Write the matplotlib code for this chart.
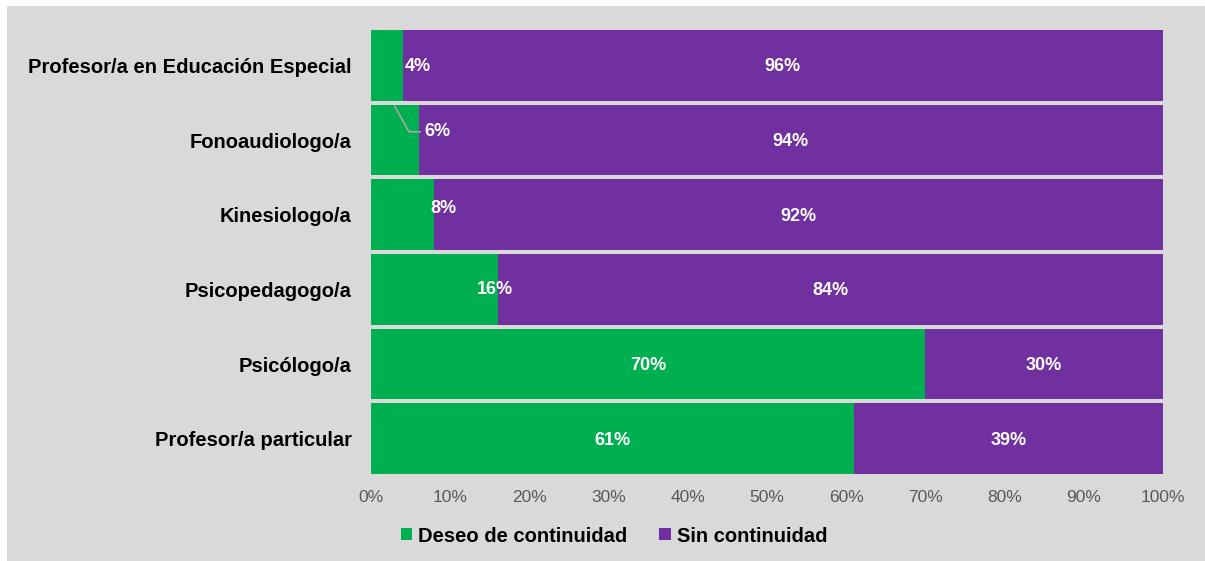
import matplotlib.pyplot as plt
from matplotlib.patches import Rectangle

plt.rcParams['font.family'] = ['Liberation Sans', 'DejaVu Sans']

categories = ['Profesor/a en Educación Especial', 'Fonoaudiologo/a', 'Kinesiologo/a',
              'Psicopedagogo/a', 'Psicólogo/a', 'Profesor/a particular']
deseo = [4, 6, 8, 16, 70, 61]
sin_cont = [96, 94, 92, 84, 30, 39]
ticks = [0, 10, 20, 30, 40, 50, 60, 70, 80, 90, 100]

green = '#00b050'
purple = '#7030a0'
bg = '#d9d9d9'

fig = plt.figure(figsize=(12.05, 5.61), dpi=100, facecolor='white')
# gray panel with a thin white margin on top and left
fig.patches.append(Rectangle((7 / 1205, -0.1), 1.1, 1.1 - 6 / 561, transform=fig.transFigure,
                             facecolor=bg, edgecolor='none', zorder=-5))

ax = fig.add_axes([371 / 1205, 1 - 476 / 561, (1163 - 371) / 1205, 448 / 561])
ax.set_facecolor(bg)

y = list(range(len(categories)))
ax.barh(y, deseo, height=0.95, color=green, label='Deseo de continuidad')
ax.barh(y, sin_cont, left=deseo, height=0.95, color=purple, label='Sin continuidad')

ax.set_xlim(0, 100)
ax.set_ylim(len(categories) - 0.5, -0.5)
ax.set_yticks(y)
ax.set_yticklabels(categories, fontsize=14.5, fontweight='bold', color='black')
ax.set_xticks(ticks)
ax.set_xticklabels([f'{t}%' for t in ticks], fontsize=12.5, color='#595959')
ax.tick_params(length=0)
ax.tick_params(axis='y', pad=14)
ax.tick_params(axis='x', pad=10)
for s in ax.spines.values():
    s.set_visible(False)

lbl = dict(color='white', fontsize=13, fontweight='bold', ha='center', va='center')

# small green shares are labelled just to the right of their segment
small_pos = {0: (5.9, 0.02), 1: (8.4, -0.11), 2: (9.2, -0.08), 3: (15.6, 0.0)}
for i, (d, s) in enumerate(zip(deseo, sin_cont)):
    if i in small_pos:
        px, dy = small_pos[i]
        ax.text(px, i + dy, f'{d}%', **lbl)
    else:
        ax.text(d / 2, i + 0.02, f'{d}%', **lbl)
    ax.text(d + s / 2, i + 0.02, f'{s}%', **lbl)

# leader line for the Fonoaudiologo/a label
ax.plot([3.0, 4.8, 6.2], [1 - 0.45, 1 - 0.11, 1 - 0.11], color='#a6a6a6', lw=1.2)

leg = fig.legend(loc='center', bbox_to_anchor=(614 / 1205, 1 - 536 / 561), ncol=2,
                 frameon=False, prop={'weight': 'bold', 'size': 14.5},
                 handlelength=0.55, handleheight=0.55, handletextpad=0.3, columnspacing=1.6)

fig.savefig('out.png', dpi=100, facecolor=fig.get_facecolor())
